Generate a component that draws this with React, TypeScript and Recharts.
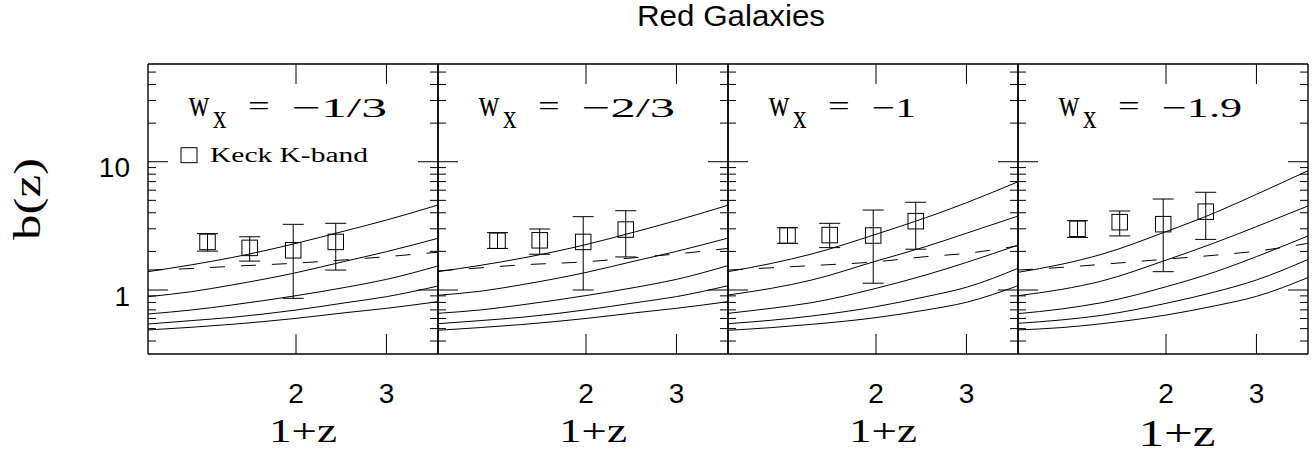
import React from "react";
import { ComposedChart, Line, Scatter, ErrorBar, XAxis, YAxis } from "recharts";

// 1+z sampling of the model curves
const zGrid = [1.03, 1.25, 1.5, 2.0, 2.5, 3.0, 3.78];
// Keck K-band points (1+z)
const keckZ = [1.345, 1.625, 1.975, 2.39];

const wLabels = ["\u22121/3", "\u22122/3", "\u22121", "\u22121.9"];

// w_x = -1/3
const modelsW13 = [
  [1.39, 1.57, 1.79, 2.31, 2.9, 3.51, 4.6],
  [0.887, 0.97, 1.094, 1.364, 1.68, 1.99, 2.53],
  [0.65, 0.698, 0.764, 0.903, 1.05, 1.21, 1.54],
  [0.543, 0.577, 0.612, 0.698, 0.796, 0.887, 1.074],
  [0.488, 0.512, 0.54, 0.601, 0.666, 0.72, 0.811],
];
const dashW13 = [1.43, 1.47, 1.53, 1.62, 1.72, 1.82, 1.97];
const keckW13 = [2.37, 2.13, 2.04, 2.37];
const keckLoW13 = [2.01, 1.68, 0.861, 1.43];
const keckHiW13 = [2.75, 2.6, 3.25, 3.31];

// w_x = -2/3
const modelsW23 = [
  [1.39, 1.56, 1.77, 2.26, 2.85, 3.48, 4.58],
  [0.91, 0.98, 1.1, 1.37, 1.69, 2.0, 2.54],
  [0.658, 0.7, 0.766, 0.905, 1.05, 1.21, 1.55],
  [0.546, 0.578, 0.613, 0.7, 0.797, 0.888, 1.08],
  [0.485, 0.51, 0.538, 0.6, 0.665, 0.72, 0.811],
];
const dashW23 = [1.41, 1.49, 1.57, 1.66, 1.79, 1.91, 2.11];
const keckW23 = [2.42, 2.44, 2.37, 2.96];
const keckLoW23 = [2.11, 1.9, 1.0, 1.81];
const keckHiW23 = [2.8, 2.99, 3.73, 4.15];

// w_x = -1
const modelsW1 = [
  [1.39, 1.61, 1.91, 2.72, 3.66, 4.79, 6.98],
  [0.914, 1.03, 1.197, 1.68, 2.18, 2.77, 3.77],
  [0.658, 0.72, 0.797, 1.03, 1.31, 1.64, 2.24],
  [0.546, 0.581, 0.627, 0.741, 0.887, 1.05, 1.476],
  [0.485, 0.509, 0.54, 0.609, 0.698, 0.802, 1.08],
];
const dashW1 = [1.43, 1.49, 1.55, 1.66, 1.82, 1.93, 2.21];
const keckW1 = [2.66, 2.68, 2.66, 3.44];
const keckLoW1 = [2.31, 2.14, 1.13, 2.08];
const keckHiW1 = [3.06, 3.31, 4.2, 4.83];

// w_x = -1.9
const modelsW19 = [
  [1.373, 1.585, 1.9, 2.85, 4.03, 5.57, 8.51],
  [0.903, 1.01, 1.175, 1.71, 2.35, 3.12, 4.52],
  [0.654, 0.711, 0.797, 1.06, 1.39, 1.82, 2.64],
  [0.55, 0.584, 0.635, 0.787, 0.97, 1.197, 1.73],
  [0.488, 0.509, 0.546, 0.638, 0.755, 0.892, 1.25],
];
const dashW19 = [1.43, 1.5, 1.585, 1.74, 1.87, 2.01, 2.31];
const keckW19 = [3.0, 3.38, 3.26, 4.08];
const keckLoW19 = [2.57, 2.64, 1.39, 2.48];
const keckHiW19 = [3.47, 4.13, 5.12, 5.78];

const xTicks = [2, 3];
const yTicks = [0.4, 0.5, 0.6, 0.7, 0.8, 0.9, 1, 2, 3, 4, 5, 6, 7, 8, 9, 10, 20, 30, 40, 50];
const yMajor = [1, 10];

const W = 1314;
const H = 454;
const PLOT_LEFT = 148;
const PLOT_W = 290;
const PLOT_TOP = 64;
const PLOT_BOTTOM = 354;
const X_DOMAIN = [1.03, 3.78];
const Y_DOMAIN = [0.317, 57.8];

const SANS = "'Liberation Sans', Arial, Helvetica, sans-serif";
const SERIF = "'Liberation Serif', 'Times New Roman', serif";
const frame = { stroke: "#000", strokeWidth: 1.4 };

const panels = [
  { models: modelsW13, dash: dashW13, keck: keckW13, lo: keckLoW13, hi: keckHiW13 },
  { models: modelsW23, dash: dashW23, keck: keckW23, lo: keckLoW23, hi: keckHiW23 },
  { models: modelsW1, dash: dashW1, keck: keckW1, lo: keckLoW1, hi: keckHiW1 },
  { models: modelsW19, dash: dashW19, keck: keckW19, lo: keckLoW19, hi: keckHiW19 },
];

const BottomTick = (p: any) => (
  <g>
    <line x1={p.x} y1={p.y} x2={p.x} y2={p.y - 20} stroke="#000" strokeWidth={1} />
    <text x={p.x} y={p.y + 49} textAnchor="middle" fontFamily={SANS} fontSize={28} fill="#000">
      {p.payload.value}
    </text>
  </g>
);

const TopTick = (p: any) => (
  <line x1={p.x} y1={p.y} x2={p.x} y2={p.y + 20} stroke="#000" strokeWidth={1} />
);

const makeLeftTick = (labels: boolean) => (p: any) => {
  const v = p.payload.value;
  const major = yMajor.includes(v);
  return (
    <g>
      <line x1={p.x} y1={p.y} x2={p.x + (major ? 20 : 8)} y2={p.y} stroke="#000" strokeWidth={1} />
      {labels && major && (
        <text x={p.x - 18} y={p.y + 15.5} textAnchor="end" fontFamily={SANS} fontSize={28} fill="#000">
          {v}
        </text>
      )}
    </g>
  );
};

const RightTick = (p: any) => {
  const major = yMajor.includes(p.payload.value);
  return <line x1={p.x} y1={p.y} x2={p.x - (major ? 20 : 8)} y2={p.y} stroke="#000" strokeWidth={1} />;
};

const Square = (p: any) => (
  <rect x={p.cx - 7.75} y={p.cy - 7.75} width={15.5} height={15.5} fill="none" stroke="#000" strokeWidth={1} />
);

const Panel = ({ index }: { index: number }) => {
  const { models, dash, keck, lo, hi } = panels[index];
  const left = PLOT_LEFT + index * PLOT_W;
  const rows = zGrid.map((z, i) => ({
    z,
    m0: models[0][i],
    m1: models[1][i],
    m2: models[2][i],
    m3: models[3][i],
    m4: models[4][i],
    d: dash[i],
  }));
  const points = keckZ.map((z, i) => ({ z, b: keck[i], err: [keck[i] - lo[i], hi[i] - keck[i]] }));

  // axes are 1px thick (a 0px axis is not drawn), so the margins give 1px back
  return (
    <div style={{ position: "absolute", left: 0, top: 0 }}>
      <ComposedChart
        width={W}
        height={H}
        data={rows}
        margin={{ top: PLOT_TOP - 1, bottom: H - PLOT_BOTTOM - 1, left: left - 1, right: W - left - PLOT_W - 1 }}
      >
        <XAxis xAxisId="b" dataKey="z" type="number" scale="log" domain={X_DOMAIN} allowDataOverflow
          ticks={xTicks} interval={0} height={1} tickSize={0} tickMargin={0} tickLine={false}
          axisLine={frame} tick={BottomTick} />
        <XAxis xAxisId="t" orientation="top" dataKey="z" type="number" scale="log" domain={X_DOMAIN} allowDataOverflow
          ticks={xTicks} interval={0} height={1} tickSize={0} tickMargin={0} tickLine={false}
          axisLine={frame} tick={TopTick} />
        <YAxis yAxisId="l" type="number" scale="log" domain={Y_DOMAIN} allowDataOverflow
          ticks={yTicks} interval={0} width={1} tickSize={0} tickMargin={0} tickLine={false}
          axisLine={frame} tick={makeLeftTick(index === 0)} />
        <YAxis yAxisId="r" orientation="right" type="number" scale="log" domain={Y_DOMAIN} allowDataOverflow
          ticks={yTicks} interval={0} width={1} tickSize={0} tickMargin={0} tickLine={false}
          axisLine={frame} tick={RightTick} />
        {["m0", "m1", "m2", "m3", "m4"].map((k) => (
          <Line key={k} xAxisId="b" yAxisId="l" dataKey={k} type="monotone" stroke="#000"
            strokeWidth={1} dot={false} activeDot={false} isAnimationActive={false} />
        ))}
        <Line xAxisId="b" yAxisId="l" dataKey="d" type="monotone" stroke="#000" strokeWidth={1}
          strokeDasharray="15 16" dot={false} activeDot={false} isAnimationActive={false} />
        <Scatter xAxisId="b" yAxisId="l" data={points} dataKey="b" shape={Square} isAnimationActive={false}>
          <ErrorBar dataKey="err" direction="y" width={10.5} stroke="#000" strokeWidth={1} isAnimationActive={false} />
        </Scatter>
      </ComposedChart>
    </div>
  );
};

const Overlay = () => (
  <svg width={W} height={H} style={{ position: "absolute", left: 0, top: 0, pointerEvents: "none" }}>
    <text x={731} y={25.5} textAnchor="middle" fontFamily={SANS} fontSize={29} textLength={188}
      lengthAdjust="spacingAndGlyphs" fill="#000">
      Red Galaxies
    </text>
    <text transform="translate(39.5,199) rotate(-90)" textAnchor="middle" fontFamily={SERIF} fontSize={38}
      textLength={82} lengthAdjust="spacingAndGlyphs" fill="#000">
      b(z)
    </text>
    {wLabels.map((lab, i) => {
      const left = PLOT_LEFT + i * PLOT_W;
      const widths = [95, 93, 44, 80];
      const big = i === 3;
      return (
        <g key={lab} fontFamily={SERIF} fill="#000">
          <text x={left + 40.5} y={115.5} fontSize={37} textLength={21} lengthAdjust="spacingAndGlyphs">w</text>
          <text x={left + 65} y={128.3} fontSize={33} textLength={13.5} lengthAdjust="spacingAndGlyphs">x</text>
          <text x={left + 100} y={114.5} fontSize={28} textLength={21.7} lengthAdjust="spacingAndGlyphs">=</text>
          <text x={left + 144} y={117} fontSize={28} textLength={widths[i]} lengthAdjust="spacingAndGlyphs">
            {lab}
          </text>
          <text x={left + (big ? 159 : 155)} y={big ? 445.5 : 441.7} fontSize={big ? 37 : 34}
            textAnchor="middle" textLength={big ? 77 : 68} lengthAdjust="spacingAndGlyphs">
            1+z
          </text>
        </g>
      );
    })}
    <rect x={181} y={147.7} width={16} height={15} fill="none" stroke="#000" strokeWidth={1} />
    <text x={210} y={161.7} fontFamily={SERIF} fontSize={20} textLength={158} lengthAdjust="spacingAndGlyphs" fill="#000">
      Keck K-band
    </text>
  </svg>
);

export default function App() {
  return (
    <div style={{ position: "absolute", left: 0, top: 0, width: W, height: H, background: "#fff" }}>
      {[0, 1, 2, 3].map((i) => (
        <Panel key={i} index={i} />
      ))}
      <Overlay />
    </div>
  );
}
